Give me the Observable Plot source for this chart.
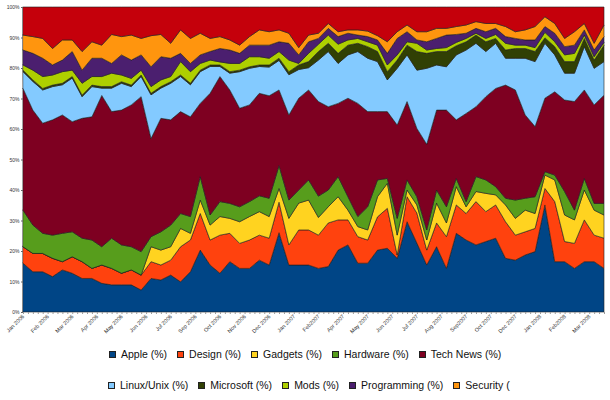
<!DOCTYPE html>
<html><head><meta charset="utf-8">
<script src="https://cdn.jsdelivr.net/npm/d3@7"></script>
<script src="https://cdn.jsdelivr.net/npm/@observablehq/plot@0.6"></script>
<style>
body{margin:0;background:#fff;}
#wrap{position:relative;width:610px;height:400px;overflow:hidden;font-family:"Liberation Sans",Arial,sans-serif;background:#fff;}
.row{position:absolute;display:flex;align-items:center;white-space:nowrap;font-size:10.5px;color:#111;height:14px;}
.item{display:flex;align-items:center;margin-right:10px;flex:none;}
.sw{width:5px;height:5px;border:1px solid #222;margin-right:5px;flex:none;}
</style></head>
<body><div id="wrap"><div id="chart"></div></div>
<script>
// Series names (stack order, bottom to top) and colours
const names = ["Apple (%)","Design (%)","Gadgets (%)","Hardware (%)","Tech News (%)","Linux/Unix (%)","Microsoft (%)","Mods (%)","Programming (%)","Security (%)","Other (%)"];
const colors = ["#004586","#ff420e","#ffd320","#579d1c","#7e0021","#83caff","#314004","#aecf00","#4b1f6f","#ff950e","#c5000b"];
// Legend texts as shown (the second row is cut off in the original)
const legendRow1 = ["Apple (%)","Design (%)","Gadgets (%)","Hardware (%)","Tech News (%)"];
const legendRow2 = ["Linux/Unix (%)","Microsoft (%)","Mods (%)","Programming (%)","Security ("];

// X tick labels (every 5th week) and Y tick values
const xLabels = ["Jan 2006","Feb 2006","Mar 2006","Apr 2006","May 2006","Jun 2006","Jul 2006","Sep 2006","Oct 2006","Nov 2006","Dec 2006","Jan 2007","Feb2007","Apr 2007","May 2007","Jun 2007","Jul 2007","Aug 2007","Sep2007","Oct 2007","Dec 2007","Jan 2008","Feb2008","Mar 2008"];
const yTickValues = [0,10,20,30,40,50,60,70,80,90,100];

// Values, one sample every two weeks (Jan 2006 - Mar 2008)
const apple = [16.0,13.2,13.2,11.6,13.8,12.7,11.0,11.0,9.4,8.9, 8.9,8.9,7.2,11.0,10.5, 12.1,9.9,13.2,20.3,15.4, 12.7,16.5,14.3,14.3,17.0, 15.4,26.0,15.4,15.4,15.4, 14.3,14.9,20.3,22.0,16.0, 16.0,20.3,20.9,17.6,29.6, 22.6,15.4,21.4,14.3,25.8, 23.6,22.0,23.1,24.2,17.6, 17.0,18.7,19.8,35.1,16.5, 16.5,14.3,16.5,16.5,14.3];
const design = [5.4,6.0,6.0,6.0,2.7,5.4,5.5,3.3,6.0,5.4, 3.8,4.9,4.9,5.5,4.9, 4.9,11.5,10.4,12.0,8.2, 12.5,9.3,8.2,9.3,8.2, 8.8,10.0,6.6,11.5,11.5, 10.9,14.3,9.9,8.2,8.7, 7.6,10.9,13.1,1.1,8.2, 9.8,4.9,7.8,10.4,9.3, 8.7,14.2,9.8,10.9,12.0, 8.2,7.6,7.6,5.4,19.7, 6.6,8.2,13.7,8.7,9.9];
const gadgets = [0,0,0,0,0,0,0,0,0,0, 0,0,0,4.9,4.9, 4.4,6.0,2.2,4.4,4.9, 6.1,4.9,7.1,7.7,7.7, 7.1,4.5,8.7,8.8,9.8, 5.8,5.3,7.6,3.2,3.3, 3.3,6.6,8.2,6.5,2.2, 2.7,3.3,6.5,4.5,6.0, 2.2,3.3,6.0,3.3,5.5, 5.5,7.1,4.9,4.4,7.1, 8.7,7.7,9.8,8.2,7.6];
const hardware = [12.0,9.3,6.6,7.6,9.3,8.2,7.7,9.3,6.0,9.9, 9.3,7.6,7.7,3.3,6.0, 7.1,4.9,5.5,7.7,3.3, 4.9,4.9,4.9,4.9,5.2, 6.0,7.5,6.0,4.3,6.6, 7.0,5.5,6.6,4.4,3.3, 7.6,5.5,1.6,5.5,3.3, 2.7,3.3,4.3,5.3,2.7, 1.7,4.9,4.4,2.7,2.2, 6.0,3.9,5.5,1.1,1.6, 7.7,3.2,3.8,2.2,3.8];
const techNews = [39.9,37.7,36.1,37.8,38.8,36.1,39.3,40.4,49.6,41.5, 44.2,46.5,50.8,32.2,37.2, 34.5,33.4,32.7,24.0,39.9, 41.0,37.2,32.3,31.7,33.6, 33.6,24.8,27.9,30.1,29.5, 31.0,27.3,24.0,32.3,37.1, 31.2,22.4,21.9,30.6,25.7, 22.4,28.1,26.2,31.7,19.2, 28.9,22.9,27.3,32.2,37.1, 36.1,27.3,23.0,24.1,27.3, 30.0,35.6,29.0,32.3,35.5];
const linux = [5.5,9.4,10.9,10.9,9.9,14.3,7.1,9.9,2.4,7.7, 8.8,6.0,6.6,14.3,9.9, 12.0,11.5,10.5,10.4,8.8, 3.3,5.5,12.0,12.0,8.8, 9.4,9.7,13.2,9.4,7.3, 13.6,18.1,13.1,14.2,17.0, 17.5,16.4,10.4,18.6,15.3, 19.1,24.9,14.8,14.2,21.3, 20.8,20.8,14.8,14.8,8.8, 10.4,18.6,21.3,18.0,12.1, 8.8,9.3,14.2,12.0,11.0];
const microsoft = [0.5,0.5,0.5,0.5,0.5,0.5,0.5,0.5,0.5,0.5, 0.5,0.5,0.5,0.5,0.5, 0.5,0.5,0.5,0.5,0.5, 0.5,0.5,0.5,0.5,0.5, 0.7,0.7,1.0,1.5,2.0, 2.8,2.7,3.3,3.2,2.7, 3.8,3.3,2.7,2.7,3.2, 6.1,4.9,4.4,5.0,3.0, 2.7,2.7,3.2,1.6,2.7, 3.2,3.2,3.3,1.8,2.7, 3.8,3.8,2.7,2.7,5.4];
const mods = [1.7,3.2,3.9,3.3,3.8,2.1,3.9,2.8,3.3,4.4, 2.2,2.2,1.6,2.2,2.2, 1.7,4.4,3.8,2.2,1.6, 1.0,2.7,2.2,3.3,2.7, 2.2,2.2,3.8,0.5,2.7, 2.4,2.7,3.0,1.7,1.6, 1.6,2.1,2.2,1.7,1.1, 2.7,1.1,1.0,1.3,1.1, 1.1,0.6,1.1,1.3,2.2, 1.1,1.1,1.3,1.8,1.6, 2.2,2.7,1.1,1.1,0.9];
const programming = [4.9,5.5,6.0,3.3,3.8,6.1,4.3,6.0,6.0,3.2, 6.6,6.0,5.0,6.5,7.6, 6.0,2.7,2.7,2.8,2.8, 4.4,4.4,3.3,3.8,3.8, 4.3,3.2,5.5,2.8,3.8, 1.9,2.2,2.5,2.2,1.1, 1.7,1.7,3.8,5.4,3.3, 1.1,2.7,3.3,4.1,2.6, 1.7,1.6,2.2,2.0,2.2, 2.2,1.7,2.5,1.9,2.8, 2.7,2.7,1.7,2.2,1.9];
const security = [4.9,5.5,6.5,5.4,6.6,3.8,6.1,5.4,4.3,9.5, 6.0,8.2,5.4,10.2,7.3, 4.9,7.7,8.2,7.1,4.3, 3.9,3.3,2.7,2.8,5.0, 4.4,3.9,3.3,2.4,2.2, 1.7,1.6,1.6,1.1,1.7, 1.8,1.4,3.8,2.2,2.2, 2.7,3.3,3.3,2.2,2.6, 2.7,2.2,2.7,1.6,3.3, 2.2,3.3,4.4,3.2,3.2, 2.7,4.4,2.1,2.2,3.8];
const other = [9.2,9.7,10.3,13.6,10.8,10.8,14.6,11.4,12.5,9.0, 9.7,9.2,10.3,9.4,9.0, 11.9,7.5,10.3,8.6,10.3, 9.7,10.8,12.5,9.7,7.5, 8.1,7.5,8.6,13.3,9.2, 8.6,5.4,8.1,7.5,7.5, 7.9,9.4,11.4,8.1,5.9, 8.1,8.1,7.0,7.0,6.4, 5.9,4.8,5.4,5.4,6.4, 8.1,7.5,6.4,3.2,5.4, 10.3,8.1,5.4,11.9,5.9];

const seriesValues = [apple, design, gadgets, hardware, techNews, linux, microsoft, mods, programming, security, other];
const rows = [];
seriesValues.forEach((vals, s) => vals.forEach((v, i) => rows.push({week: i * 2, value: v, series: names[s]})));

const labelWeeks = xLabels.map((_, i) => i * 5);
const font = '"Liberation Sans", Arial, sans-serif';

const chart = Plot.plot({
  width: 610, height: 342,
  marginLeft: 23, marginRight: 6, marginTop: 7, marginBottom: 30,
  style: {fontFamily: font, background: "#fff", overflow: "visible"},
  x: {type: "linear", domain: [0, 118]},
  y: {domain: [0, 1]},
  color: {domain: names, range: colors},
  marks: [
    Plot.areaY(rows, Plot.stackY({x: "week", y: "value", z: "series", fill: "series", offset: "normalize", stroke: "#1e1e1e", strokeWidth: 0.6, strokeLinejoin: "round"})),
    Plot.axisY({ticks: yTickValues.map(v => v / 100), tickFormat: d => Math.round(d * 100) + "%", tickSize: 2, tickPadding: 2, fontSize: 5, fill: "#333", stroke: "#666", label: null}),
    Plot.axisX({ticks: d3.range(0, 119), tickSize: 2, tickFormat: () => "", stroke: "#999", label: null}),
    Plot.axisX({ticks: labelWeeks, tickFormat: d => xLabels[Math.round(d / 5)], tickRotate: -45, tickSize: 0, tickPadding: 3, fontSize: 5.5, fill: "#333", label: null})
  ]
});
document.getElementById("chart").appendChild(chart);

// Legend (two rows)
function makeRow(labels, offset, top, left) {
  const row = document.createElement("div");
  row.className = "row";
  row.style.top = top + "px";
  row.style.left = left + "px";
  labels.forEach((label, k) => {
    const it = document.createElement("div");
    it.className = "item";
    const sw = document.createElement("span");
    sw.className = "sw";
    sw.style.background = colors[offset + k];
    const tx = document.createElement("span");
    tx.textContent = label;
    it.appendChild(sw); it.appendChild(tx);
    row.appendChild(it);
  });
  document.getElementById("wrap").appendChild(row);
}
makeRow(legendRow1, 0, 347, 109);
makeRow(legendRow2, 5, 378, 108);
</script>
</body></html>
